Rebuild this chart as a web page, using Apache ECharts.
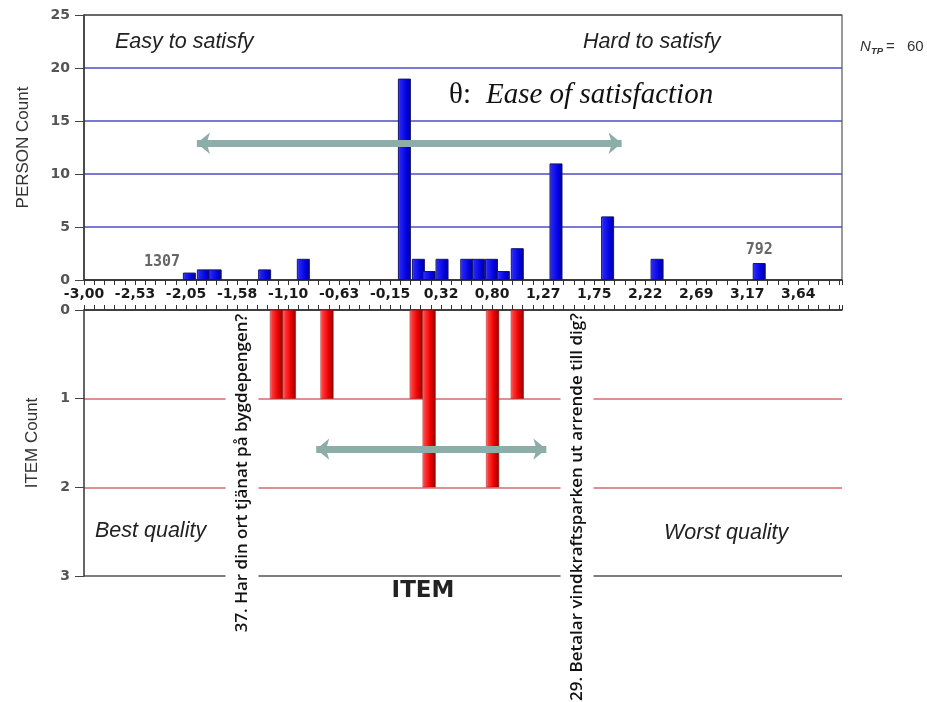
<!DOCTYPE html>
<html lang="sv">

<head>
    <meta charset="UTF-8">
    <title>Person-item map</title>
    <style>
        html,
        body {
            margin: 0;
            padding: 0;
            background: #fff;
        }

        #main {
            width: 927px;
            height: 702px;
        }
    </style>
    <script src="https://cdn.jsdelivr.net/npm/echarts@6.0.0/dist/echarts.min.js"></script>
</head>

<body>
    <div id="main"></div>
    <script>
        // x axis: theta, one label every ~0.4745 logits
        var tickLabels = ['-3,00', '-2,53', '-2,05', '-1,58', '-1,10', '-0,63', '-0,15', '0,32',
            '0,80', '1,27', '1,75', '2,22', '2,69', '3,17', '3,64'];
        var tickStart = -3.00;
        var tickStep = 0.4745;
        var thetaMax = 4.05;

        // persons (upper histogram)
        var personTheta = [-2.02, -1.89, -1.78, -1.32, -0.96, -0.02, 0.11, 0.21, 0.33,
            0.56, 0.67, 0.79, 0.90, 1.03, 1.39, 1.87, 2.33, 3.28];
        var personCount = [0.7, 1, 1, 1, 2, 19, 2, 0.85, 2,
            2, 2, 2, 0.85, 3, 11, 6, 2, 1.6];
        var personTag = ['', '', '', '', '', '', '', '', '',
            '', '', '', '', '', '', '', '', '792'];

        // items (lower histogram, hanging down)
        var itemTheta = [-1.21, -1.09, -0.74, 0.09, 0.21, 0.80, 1.03];
        var itemCount = [1, 1, 1, 1, 2, 2, 1];

        // arrows: [theta from, theta to, count level]
        var personArrow = [-1.95, 2.00, 12.9];
        var itemArrow = [-0.84, 1.30, 1.57];

        function toAxis(t) {
            return (t - tickStart) / tickStep;
        }

        var myChart = echarts.init(document.getElementById('main'));

        var blueFill = new echarts.graphic.LinearGradient(0, 0, 1, 0, [
            { offset: 0, color: '#7a7aff' },
            { offset: 0.15, color: '#2424f6' },
            { offset: 0.7, color: '#0000e0' },
            { offset: 1, color: '#00007a' }
        ]);
        var redFill = new echarts.graphic.LinearGradient(0, 0, 1, 0, [
            { offset: 0, color: '#ff9a9a' },
            { offset: 0.15, color: '#ff3a3a' },
            { offset: 0.6, color: '#ee0000' },
            { offset: 1, color: '#8a0000' }
        ]);

        var arrowStyle = {
            silent: true,
            symbol: ['arrow', 'arrow'],
            symbolSize: [16, 13],
            label: { show: false },
            lineStyle: { color: '#8cada8', width: 7, type: 'solid', opacity: 1 },
            emphasis: { disabled: true }
        };

        var tickFont = 'DejaVu Sans';

        function xAxisFor(grid, showLabels) {
            return {
                gridIndex: grid,
                type: 'value',
                position: grid === 0 ? 'bottom' : 'top',
                min: 0,
                max: toAxis(thetaMax),
                interval: 1,
                axisLine: { show: true, onZero: false, lineStyle: { color: '#333', width: 1.5 } },
                axisTick: { show: true, length: 5, lineStyle: { color: '#333' } },
                minorTick: { show: true, splitNumber: 5, length: 5, lineStyle: { color: '#333' } },
                splitLine: { show: false },
                axisLabel: {
                    show: showLabels,
                    margin: 7,
                    hideOverlap: false,
                    fontFamily: tickFont,
                    fontWeight: 'bold',
                    fontSize: 14,
                    color: '#1a1a1a',
                    formatter: function (v) {
                        var i = Math.round(v);
                        if (Math.abs(v - i) > 0.01) return '';
                        return tickLabels[i] || '';
                    }
                }
            };
        }

        var textItalic = 'italic 21.5px "Liberation Sans"';

        var option = {
            animation: false,
            grid: [
                { left: 84, top: 15, width: 758, height: 265, show: true, borderColor: '#555', borderWidth: 1.2 },
                { left: 84, top: 310, width: 758, height: 266 }
            ],
            xAxis: [xAxisFor(0, true), xAxisFor(1, false)],
            yAxis: [
                {
                    gridIndex: 0,
                    type: 'value',
                    min: 0,
                    max: 25,
                    interval: 5,
                    name: 'PERSON Count',
                    nameLocation: 'middle',
                    nameGap: 52,
                    nameTextStyle: { fontFamily: 'Liberation Sans', fontSize: 17, color: '#333' },
                    axisLine: { show: true, lineStyle: { color: '#333', width: 1.5 } },
                    axisTick: { show: true, length: 9, lineStyle: { color: '#444' } },
                    axisLabel: { margin: 14, fontFamily: tickFont, fontWeight: 'bold', fontSize: 14, color: '#555' },
                    splitLine: {
                        show: true,
                        lineStyle: { color: ['#333', '#4e4ec6', '#4e4ec6', '#4e4ec6', '#4e4ec6', '#555'], width: 1.5 }
                    }
                },
                {
                    gridIndex: 1,
                    type: 'value',
                    inverse: true,
                    min: 0,
                    max: 3,
                    interval: 1,
                    name: 'ITEM Count',
                    nameLocation: 'middle',
                    nameGap: 43,
                    nameTextStyle: { fontFamily: 'Liberation Sans', fontSize: 17, color: '#333' },
                    axisLine: { show: true, lineStyle: { color: '#333', width: 1.5 } },
                    axisTick: { show: true, length: 9, lineStyle: { color: '#444' } },
                    axisLabel: { margin: 14, fontFamily: tickFont, fontWeight: 'bold', fontSize: 14, color: '#555' },
                    splitLine: {
                        show: true,
                        lineStyle: { color: ['#333', '#d46a6a', '#d46a6a', '#555'], width: 1.5 }
                    }
                }
            ],
            series: [
                {
                    name: 'PERSON',
                    type: 'bar',
                    xAxisIndex: 0,
                    yAxisIndex: 0,
                    barWidth: 13,
                    itemStyle: { color: blueFill, borderColor: '#14146e', borderWidth: 1 },
                    label: {
                        show: true,
                        position: 'top',
                        distance: 5,
                        fontFamily: 'DejaVu Sans Mono',
                        fontWeight: 'bold',
                        fontSize: 15,
                        color: '#666',
                        formatter: function (p) { return personTag[p.dataIndex]; }
                    },
                    data: personTheta.map(function (t, i) {
                        return [toAxis(t), personCount[i]];
                    }),
                    markLine: Object.assign({}, arrowStyle, {
                        data: [[
                            { coord: [toAxis(personArrow[0]), personArrow[2]] },
                            { coord: [toAxis(personArrow[1]), personArrow[2]] }
                        ]]
                    })
                },
                {
                    name: 'ITEM',
                    type: 'bar',
                    xAxisIndex: 1,
                    yAxisIndex: 1,
                    barWidth: 13,
                    itemStyle: { color: redFill, borderColor: '#a00000', borderWidth: 0.5 },
                    data: itemTheta.map(function (t, i) {
                        return [toAxis(t), itemCount[i]];
                    }),
                    markLine: Object.assign({}, arrowStyle, {
                        data: [[
                            { coord: [toAxis(itemArrow[0]), itemArrow[2]] },
                            { coord: [toAxis(itemArrow[1]), itemArrow[2]] }
                        ]]
                    })
                }
            ],
            graphic: [
                { type: 'text', x: 115, y: 42, z: 100, style: { text: 'Easy to satisfy', font: textItalic, fill: '#222', verticalAlign: 'middle' } },
                { type: 'text', x: 583, y: 42, z: 100, style: { text: 'Hard to satisfy', font: textItalic, fill: '#222', verticalAlign: 'middle' } },
                { type: 'text', x: 449, y: 95, z: 100, style: { text: 'θ:', font: '29px "Liberation Serif"', fill: '#111', verticalAlign: 'middle' } },
                { type: 'text', x: 486, y: 95, z: 100, style: { text: 'Ease of satisfaction', font: 'italic 29px "Liberation Serif"', fill: '#111', verticalAlign: 'middle' } },
                { type: 'text', x: 95, y: 531, z: 100, style: { text: 'Best quality', font: textItalic, fill: '#222', verticalAlign: 'middle' } },
                { type: 'text', x: 664, y: 533, z: 100, style: { text: 'Worst quality', font: textItalic, fill: '#222', verticalAlign: 'middle' } },
                { type: 'text', x: 423, y: 591, z: 100, style: { text: 'ITEM', font: 'bold 23px "DejaVu Sans"', fill: '#222', align: 'center', verticalAlign: 'middle' } },
                { type: 'text', x: 860, y: 47, z: 100, style: { text: 'N', font: 'italic 15px "Liberation Sans"', fill: '#333', verticalAlign: 'middle' } },
                { type: 'text', x: 871, y: 51, z: 100, style: { text: 'TP', font: 'italic bold 9.5px "Liberation Sans"', fill: '#333', verticalAlign: 'middle' } },
                { type: 'text', x: 886, y: 47, z: 100, style: { text: '=', font: '15px "Liberation Sans"', fill: '#333', verticalAlign: 'middle' } },
                { type: 'text', x: 907, y: 47, z: 100, style: { text: '60', font: '15px "Liberation Sans"', fill: '#333', verticalAlign: 'middle' } },
                { type: 'text', x: 162, y: 262, z: 100, style: { text: '1307', font: 'bold 15px "DejaVu Sans Mono"', fill: '#666', align: 'center', verticalAlign: 'middle' } },
                {
                    type: 'text', x: 242, y: 473, z: 100, rotation: Math.PI / 2,
                    style: {
                        text: '37. Har din ort tjänat på bygdepengen?', font: '600 17px "Open Sans"', fill: '#111',
                        align: 'center', verticalAlign: 'middle', backgroundColor: '#fff', padding: [8, 0]
                    }
                },
                {
                    type: 'text', x: 577, y: 507, z: 100, rotation: Math.PI / 2,
                    style: {
                        text: '29. Betalar vindkraftsparken ut arrende till dig?', font: '600 17px "Open Sans"', fill: '#111',
                        align: 'center', verticalAlign: 'middle', backgroundColor: '#fff', padding: [8, 0]
                    }
                }
            ]
        };

        myChart.setOption(option);
    </script>
</body>

</html>
